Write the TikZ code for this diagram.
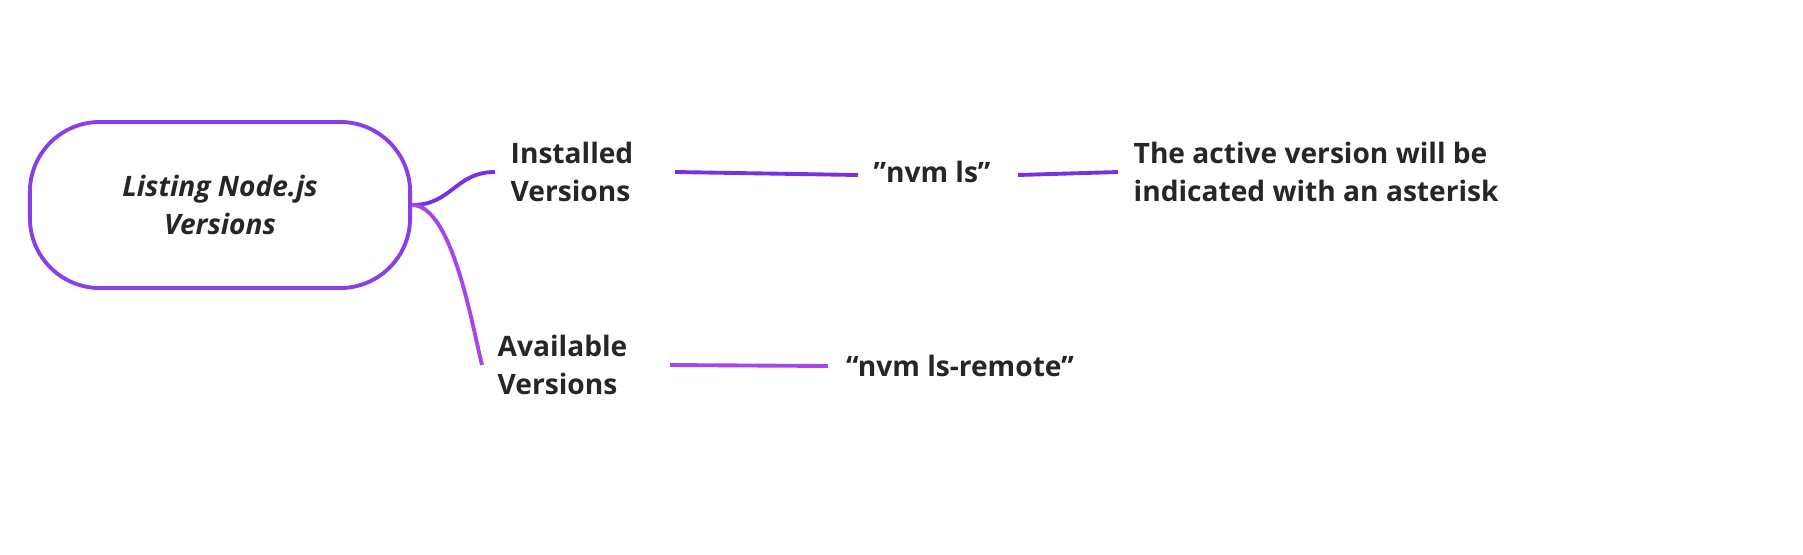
\documentclass[tikz,border=0pt]{standalone}
\usepackage{fontspec}
\setmainfont{Open Sans}
\usetikzlibrary{positioning}
\definecolor{rootc}{HTML}{8A3EE8}
\definecolor{topc}{HTML}{7A2FE0}
\definecolor{lowc}{HTML}{A845E8}
\tikzset{
  x=0.01cm, y=-0.01cm,
  font=\fontsize{8}{10.8}\selectfont\bfseries,
  txt/.style={align=left, text=black!85, inner sep=0pt},
  root/.style={draw=rootc, line width=1.1pt, rounded corners=0.7cm,
    minimum width=3.8cm, minimum height=1.66cm, align=center, text=black!85},
  link/.style={line width=1.1pt}
}
\begin{document}
\begin{tikzpicture}
\useasboundingbox (0,0) rectangle (1803,554);
\node[root] (list) at (220,205) {\itshape Listing Node.js\\\itshape Versions};
\node[txt, anchor=west] (inst) at (510,172) {Installed\\Versions};
\node[txt, anchor=west] (avail) at (497,365) {Available\\Versions};
\node[txt] (ls) at (932,172) {”nvm ls”};
\node[txt] (remote) at (960,366) {“nvm ls-remote”};
\node[txt, anchor=west] (star) at (1133,172) {The active version will be\\indicated with an asterisk};
\coordinate (j) at (list.east);
% branches
\draw[link, topc] (j) .. controls +(40,0) and +(-40,0) .. (495,172);
\draw[link, lowc] (j) .. controls +(40,0) and +(-10,-40) .. (482,365);
\draw[link, topc] (675,172) -- (858,175);
\draw[link, topc] (1018,175) -- (1118,172);
\draw[link, lowc] (670,365) -- (828,366);
\end{tikzpicture}
\end{document}
